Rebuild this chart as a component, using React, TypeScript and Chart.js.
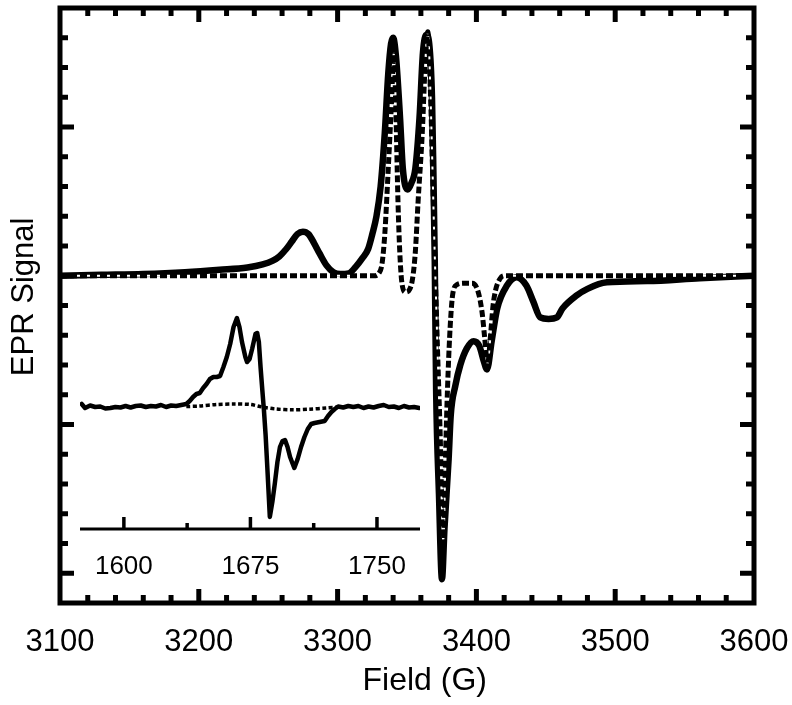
import React, { useEffect, useRef } from "react";
import { Chart, registerables } from "chart.js";

Chart.register(...registerables);

// ---------- main spectrum ----------
const xMajorTicks = [3100, 3200, 3300, 3400, 3500, 3600];
const xMinorStep = 20;
const yMajorTicks = [-10, -5, 0, 5];
const yMinorStep = 1;

const solidField = [
  3100, 3130, 3160, 3190, 3215, 3235, 3246, 3253, 3258, 3263,
  3267, 3271, 3275, 3279, 3283, 3287, 3292, 3297, 3302, 3308,
  3313, 3318, 3322, 3325, 3328, 3331, 3334, 3336.5, 3338.5, 3340,
  3342, 3345, 3347, 3350.5, 3353, 3356, 3359, 3361.5, 3364, 3366,
  3368, 3369, 3370, 3371, 3373, 3375.2, 3377, 3380, 3381.5, 3384.8,
  3388.4, 3393, 3398, 3402, 3405.5, 3407.6, 3411, 3415, 3422, 3429,
  3436, 3441, 3446, 3452, 3458, 3462, 3472, 3480, 3494, 3523,
  3561, 3600,
];
const solidSignal = [
  0, 0.03, 0.06, 0.12, 0.2, 0.28, 0.38, 0.5, 0.65, 0.9,
  1.15, 1.4, 1.48, 1.4, 1.1, 0.75, 0.35, 0.12, 0.06, 0.08,
  0.3, 0.6, 0.9, 1.4, 2.0, 3.0, 4.8, 6.8, 7.8, 8.0,
  7.4, 5.3, 3.6, 2.9, 3.1, 3.6, 5.3, 7.5, 8.1, 7.8,
  6.0, 3.5, 0.5, -3.9, -7.3, -10.2, -8.5, -6.15, -4.7, -3.7,
  -3.0, -2.45, -2.2, -2.35, -2.9, -3.15, -2.2, -1.1, -0.33, -0.05,
  -0.33, -0.87, -1.4, -1.45, -1.4, -1.1, -0.67, -0.44, -0.22, -0.18,
  -0.08, 0,
];

const dashedField = [
  3100, 3326, 3330, 3332, 3334, 3336.5, 3339, 3340.5, 3342, 3343.5,
  3345, 3346.5, 3349, 3352, 3354, 3356, 3358, 3361, 3363, 3365,
  3367, 3369.5, 3372, 3374, 3375.5, 3376.3, 3377.3, 3378.5, 3380, 3381.5,
  3383, 3386, 3391, 3397, 3401, 3404, 3406, 3408, 3410, 3412,
  3414, 3417, 3420, 3600,
];
const dashedSignal = [
  0, 0, 0.1, 0.4, 1.4, 3.6, 6.0, 7.6, 5.5, 2.5,
  0.6, -0.3, -0.55, -0.45, -0.1, 0.8, 2.5, 4.8, 7.0, 8.2,
  6.0, 1.5, -2.5, -5.5, -8.5, -9.0, -7.0, -4.8, -2.8, -1.4,
  -0.6, -0.3, -0.25, -0.25, -0.5, -1.2, -2.1, -3.0, -2.1, -1.0,
  -0.45, -0.1, 0, 0,
];

// ---------- inset (half-field region) ----------
const insetMajorTicks = [1600, 1675, 1750];
const insetMinorTicks = [1637.5, 1712.5];

const insetSolidField = [
  1575, 1577, 1580, 1583, 1586, 1589, 1592, 1595, 1598, 1601,
  1604, 1607, 1610, 1613, 1616, 1619, 1622, 1625, 1628, 1631,
  1634, 1637, 1639, 1641, 1643, 1645, 1647, 1649, 1651, 1653,
  1655, 1657, 1659, 1661, 1663, 1665, 1667, 1668.5, 1670, 1672,
  1673, 1674.5, 1676, 1678, 1679, 1680, 1681, 1682, 1683, 1684,
  1685, 1686.5, 1688, 1689.5, 1691, 1692.5, 1694, 1695.5, 1697, 1698.5,
  1701, 1703, 1705, 1707, 1709, 1711, 1713, 1716, 1719, 1721,
  1723, 1725, 1727, 1730, 1733, 1736, 1739, 1742, 1745, 1748,
  1751, 1754, 1757, 1760, 1763, 1766, 1769, 1772, 1775,
];
const insetSolidSignal = [
  0.3, -0.1, 0.15, 0.0, 0.05, -0.15, -0.1, 0.0, -0.05, 0.1,
  -0.05, 0.1, 0.15, 0.0, 0.1, 0.05, 0.2, 0.0, 0.15, 0.1,
  0.2, 0.3, 0.6, 1.0, 1.3, 1.4, 1.9, 2.3, 2.8, 3.0,
  3.0, 3.1, 4.0, 5.0, 6.3, 8.0, 8.9, 8.0, 6.5, 5.0,
  4.5, 4.8, 5.8, 7.3, 7.4, 6.5, 4.0, 1.8, -0.3, -2.8,
  -6.0, -11.0, -9.5, -7.6, -5.5, -4.0, -3.4, -3.3, -4.0, -5.0,
  -6.1, -5.2, -4.0, -3.0, -2.2, -1.7, -1.6, -1.5, -1.4, -0.9,
  -0.5, -0.2, 0.05, -0.05, 0.1, 0.0, 0.1, -0.1, 0.05, -0.05,
  0.1, 0.2, 0.0, 0.05, -0.1, 0.1, -0.05, 0.0, -0.1,
];

const insetDashedField = [1637, 1645, 1655, 1665, 1675, 1682, 1690, 1700, 1710, 1720, 1728];
const insetDashedSignal = [0.05, 0.1, 0.25, 0.3, 0.25, 0.0, -0.2, -0.28, -0.22, -0.1, 0.0];

const FONT = "'Liberation Sans', Arial, Helvetica, sans-serif";

const toPoints = (xs: number[], ys: number[]) => xs.map((x, i) => ({ x, y: ys[i] }));

const frameTicks = {
  id: "frameTicks",
  afterDatasetsDraw(chart: any, _args: any, opts: any) {
    const { ctx, chartArea: a, scales } = chart;
    const xs = scales.x;
    const ys = scales.y;
    ctx.save();
    ctx.strokeStyle = "#000";
    ctx.lineCap = "butt";
    ctx.lineWidth = opts.tickWidth;
    const seg = (x1: number, y1: number, x2: number, y2: number) => {
      ctx.beginPath();
      ctx.moveTo(x1, y1);
      ctx.lineTo(x2, y2);
      ctx.stroke();
    };
    for (let v = xs.min; v <= xs.max + 1e-6; v += opts.xMinor) {
      const px = xs.getPixelForValue(v);
      if (px <= a.left + 2 || px >= a.right - 2) continue;
      const len = opts.xMajors.includes(Math.round(v)) ? opts.majorLen : opts.minorLen;
      seg(px, a.bottom, px, a.bottom - len);
      seg(px, a.top, px, a.top + len);
    }
    for (let v = ys.min; v <= ys.max + 1e-6; v += opts.yMinor) {
      const py = ys.getPixelForValue(v);
      if (py <= a.top + 2 || py >= a.bottom - 2) continue;
      const len = opts.yMajors.includes(Math.round(v)) ? opts.majorLen : opts.minorLen;
      seg(a.left, py, a.left + len, py);
      seg(a.right, py, a.right - len, py);
    }
    ctx.lineWidth = opts.frameWidth;
    ctx.lineJoin = "miter";
    ctx.strokeRect(a.left, a.top, a.right - a.left, a.bottom - a.top);
    ctx.restore();
  },
};

const insetAxis = {
  id: "insetAxis",
  afterDatasetsDraw(chart: any, _args: any, opts: any) {
    const { ctx, chartArea: a, scales } = chart;
    const xs = scales.x;
    ctx.save();
    ctx.strokeStyle = "#000";
    ctx.lineCap = "butt";
    ctx.lineWidth = opts.tickWidth;
    const tick = (v: number, len: number) => {
      const px = xs.getPixelForValue(v);
      ctx.beginPath();
      ctx.moveTo(px, a.bottom);
      ctx.lineTo(px, a.bottom - len);
      ctx.stroke();
    };
    opts.majors.forEach((v: number) => tick(v, opts.majorLen));
    opts.minors.forEach((v: number) => tick(v, opts.minorLen));
    ctx.lineWidth = opts.axisWidth;
    ctx.beginPath();
    ctx.moveTo(a.left, a.bottom);
    ctx.lineTo(a.right, a.bottom);
    ctx.stroke();
    ctx.restore();
  },
};

export default function App() {
  const mainRef = useRef<HTMLCanvasElement>(null);
  const insetRef = useRef<HTMLCanvasElement>(null);

  useEffect(() => {
    const main = new Chart(mainRef.current as HTMLCanvasElement, {
      type: "line",
      data: {
        datasets: [
          {
            label: "Simulation",
            data: toPoints(dashedField, dashedSignal),
            borderColor: "#000",
            borderWidth: 5,
            borderDash: [7, 3],
            borderCapStyle: "butt",
            pointRadius: 0,
            cubicInterpolationMode: "monotone",
            fill: false,
          },
          {
            label: "gap",
            data: toPoints(dashedField, dashedSignal),
            borderColor: "#fff",
            borderWidth: 2,
            pointRadius: 0,
            cubicInterpolationMode: "monotone",
            fill: false,
          },
          {
            label: "Experiment",
            data: toPoints(solidField, solidSignal),
            borderColor: "#000",
            borderWidth: 6.5,
            borderJoinStyle: "round",
            borderCapStyle: "round",
            pointRadius: 0,
            cubicInterpolationMode: "monotone",
            fill: false,
          },
        ],
      },
      options: {
        responsive: false,
        animation: false,
        devicePixelRatio: 1,
        layout: { padding: { top: 8, right: 38, left: 0, bottom: 0 } },
        plugins: {
          legend: { display: false },
          tooltip: { enabled: false },
          frameTicks: {
            tickWidth: 5,
            frameWidth: 5,
            majorLen: 14,
            minorLen: 8,
            xMinor: xMinorStep,
            yMinor: yMinorStep,
            xMajors: xMajorTicks,
            yMajors: yMajorTicks,
          },
        } as any,
        scales: {
          x: {
            type: "linear",
            min: 3100,
            max: 3600,
            grid: { display: false, drawTicks: false },
            border: { display: false },
            afterBuildTicks: (s: any) => {
              s.ticks = xMajorTicks.map((v) => ({ value: v }));
            },
            ticks: {
              font: { family: FONT, size: 31 },
              color: "#000",
              padding: 21,
              maxRotation: 0,
              autoSkip: false,
              callback: (v: any) => String(v),
            },
            title: {
              display: true,
              text: "    Field (G)",
              font: { family: FONT, size: 32 },
              color: "#000",
              padding: { top: 0, bottom: 5 },
            },
            afterFit: (s: any) => {
              s.height = 102;
              s.paddingLeft = 0;
              s.paddingRight = 0;
            },
          },
          y: {
            type: "linear",
            min: -11,
            max: 9,
            grid: { display: false, drawTicks: false },
            border: { display: false },
            ticks: { display: false },
            title: {
              display: true,
              text: "  EPR Signal",
              font: { family: FONT, size: 31 },
              color: "#000",
              padding: { top: 6, bottom: 0 },
            },
            afterFit: (s: any) => {
              s.width = 60;
              s.paddingTop = 0;
              s.paddingBottom = 0;
            },
          },
        },
      },
      plugins: [frameTicks],
    } as any);

    const inset = new Chart(insetRef.current as HTMLCanvasElement, {
      type: "line",
      data: {
        datasets: [
          {
            label: "Experiment (inset)",
            data: toPoints(insetSolidField, insetSolidSignal),
            borderColor: "#000",
            borderWidth: 4.5,
            borderJoinStyle: "round",
            borderCapStyle: "round",
            pointRadius: 0,
            tension: 0,
            fill: false,
          },
          {
            label: "Simulation (inset)",
            data: toPoints(insetDashedField, insetDashedSignal),
            borderColor: "#000",
            borderWidth: 3.5,
            borderDash: [4, 2.5],
            borderCapStyle: "butt",
            pointRadius: 0,
            tension: 0.3,
            fill: false,
          },
        ],
      },
      options: {
        responsive: false,
        animation: false,
        devicePixelRatio: 1,
        layout: { padding: { top: 10, right: 20, left: 20, bottom: 0 } },
        plugins: {
          legend: { display: false },
          tooltip: { enabled: false },
          insetAxis: {
            majors: insetMajorTicks,
            minors: insetMinorTicks,
            majorLen: 12,
            minorLen: 6,
            tickWidth: 3.5,
            axisWidth: 3,
          },
        } as any,
        scales: {
          x: {
            type: "linear",
            min: 1574,
            max: 1775.5,
            grid: { display: false, drawTicks: false },
            border: { display: false },
            afterBuildTicks: (s: any) => {
              s.ticks = insetMajorTicks.map((v) => ({ value: v }));
            },
            ticks: {
              font: { family: FONT, size: 26 },
              color: "#000",
              padding: 22,
              maxRotation: 0,
              autoSkip: false,
              callback: (v: any) => String(v),
            },
            afterFit: (s: any) => {
              s.height = 71;
              s.paddingLeft = 0;
              s.paddingRight = 0;
            },
          },
          y: {
            type: "linear",
            display: false,
            min: -12.2,
            max: 10.7,
          },
        },
      },
      plugins: [insetAxis],
    } as any);

    return () => {
      main.destroy();
      inset.destroy();
    };
  }, []);

  return (
    <div style={{ position: "absolute", left: 0, top: 0, width: 792, height: 705, background: "#fff" }}>
      <canvas ref={mainRef} width={792} height={705} style={{ position: "absolute", left: 0, top: 0 }} />
      <canvas ref={insetRef} width={380} height={310} style={{ position: "absolute", left: 60, top: 290 }} />
    </div>
  );
}
